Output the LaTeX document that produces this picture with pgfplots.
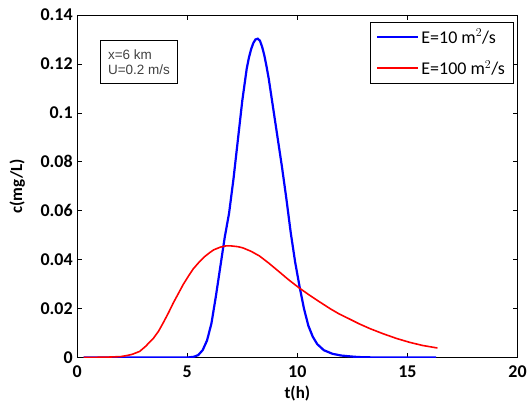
\documentclass[border=0pt]{standalone}
\usepackage{fontspec}
\setmainfont{Carlito}
\newfontfamily\boxfont{Liberation Sans}
\usepackage{pgfplots}
\pgfplotsset{compat=1.18}

\begin{document}
\begin{tikzpicture}
\begin{axis}[
  at={(0pt,0pt)}, anchor=south west,
  scale only axis, width=441.4pt, height=343.3pt,
  xmin=0, xmax=20, ymin=0, ymax=0.14,
  xtick={0,5,10,15,20}, xticklabels={0,5,10,15,20},
  ytick={0,0.02,0.04,0.06,0.08,0.1,0.12,0.14},
  yticklabels={0,0.02,0.04,0.06,0.08,0.1,0.12,0.14},
  scaled y ticks=false,
  tick align=inside, xtick pos=both, ytick pos=both,
  major tick length=5pt,
  axis line style={black, line width=0.8pt},
  tick style={black, line width=0.6pt},
  tick label style={font=\fontsize{18}{18}\selectfont\bfseries},
  xticklabel style={yshift=-5pt},
  yticklabel style={xshift=-1pt},
  xlabel={t(h)}, ylabel={c(mg/L)},
  label style={font=\fontsize{17}{17}\selectfont\bfseries},
  xlabel style={at={(axis description cs:0.5,-0.106)}, anchor=center},
  ylabel style={at={(axis description cs:-0.136,0.5)}, anchor=center, rotate=0},
  legend style={at={(axis description cs:0.99,0.98)}, anchor=north east,
    font=\fontsize{18}{18}\selectfont, draw=black, line width=0.6pt,
    inner xsep=6pt, inner ysep=5pt, row sep=12pt, cells={anchor=west}},
  legend image code/.code={\draw[#1] (0pt,0pt) -- (41pt,0pt);},
]
% E = 10 m^2/s
\addplot[blue, line width=2.2pt] coordinates {
 (0.3,0)(2,0)(4,0)(5,0)(5.3,0.0003)(5.5,0.001)(5.7,0.003)(5.9,0.007)(6.1,0.014)
 (6.3,0.025)(6.5,0.037)(6.7,0.049)(6.9,0.059)(7.1,0.073)(7.3,0.089)(7.5,0.105)
 (7.7,0.118)(7.8,0.1225)(7.9,0.126)(8.0,0.1285)(8.1,0.1300)(8.2,0.1303)(8.3,0.1295)
 (8.4,0.127)(8.5,0.1235)(8.6,0.119)(8.7,0.114)
 (8.9,0.102)(9.1,0.090)(9.3,0.078)(9.5,0.065)(9.7,0.051)(9.9,0.039)(10.1,0.029)
 (10.3,0.020)(10.5,0.013)(10.7,0.0085)(10.9,0.0055)(11.2,0.003)(11.6,0.0015)
 (12.0,0.0008)(12.6,0.0003)(13,0.0001)(14,0)(16.3,0)};
\addlegendentry{E=10 m$^2$/s}
% E = 100 m^2/s
\addplot[red, line width=1.6pt] coordinates {
 (0.3,0)(1,0.0001)(1.5,0.0002)(2.0,0.0004)(2.25,0.0008)(2.5,0.0013)(2.84,0.0025)
 (3.1,0.0045)(3.46,0.0078)(3.7,0.0108)(3.91,0.0142)(4.15,0.0183)(4.36,0.0222)
 (4.6,0.0262)(4.82,0.0299)(5.05,0.0332)(5.27,0.0362)(5.56,0.0392)(5.8,0.0413)
 (6.01,0.0428)(6.2,0.0440)(6.5,0.0451)(6.75,0.0456)(7.0,0.0456)(7.3,0.0453)
 (7.53,0.0448)(7.9,0.0434)(8.28,0.0415)(8.7,0.0386)(9.18,0.0350)(9.6,0.0318)
 (10.09,0.0284)(10.5,0.0258)(11.0,0.0228)(11.5,0.0199)(11.9,0.0178)(12.4,0.0156)
 (12.8,0.0138)(13.3,0.0118)(13.9,0.0097)(14.5,0.0078)(15.1,0.0062)(15.7,0.0049)
 (16.36,0.0039)};
\addlegendentry{E=100 m$^2$/s}
\node[draw=black, line width=0.6pt, anchor=north west, align=left,
  font=\boxfont\fontsize{13.5}{15}\selectfont, text=black!75,
  minimum width=76.6pt, minimum height=42.6pt, inner xsep=5pt]
  at (axis cs:1.06,0.1296) {x=6 km\\U=0.2 m/s};
\end{axis}
\path[use as bounding box] (-77.3pt,-47.7pt) rectangle (452.7pt,358.3pt);
\end{tikzpicture}
\end{document}
